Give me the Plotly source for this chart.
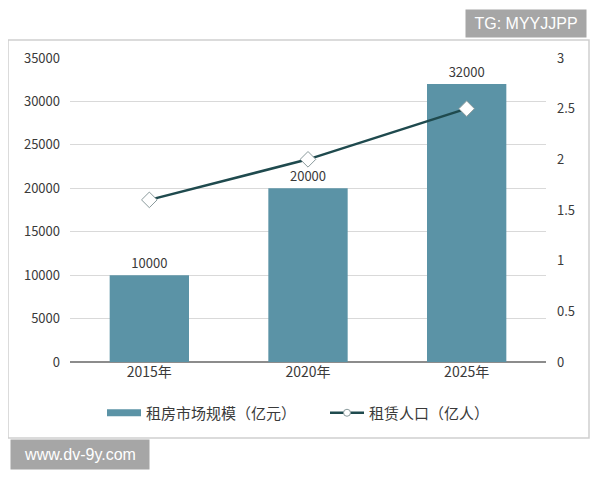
import plotly.graph_objects as go

categories = ["2015年", "2020年", "2025年"]
market_size = [10000, 20000, 32000]
renters = [1.6, 2.0, 2.5]
bar_labels = ["10000", "20000", "32000"]
left_ticks = [0, 5000, 10000, 15000, 20000, 25000, 30000, 35000]
right_ticks = [0, 0.5, 1, 1.5, 2, 2.5, 3]
bar_name = "租房市场规模（亿元）"
line_name = "租赁人口（亿人）"

FONT = "Noto Sans CJK SC, Noto Sans, sans-serif"
TXT = "#3a3a3a"
BAR_C = "#5b93a6"
LINE_C = "#1f4a4e"

fig = go.Figure()
fig.add_trace(go.Bar(
    x=categories, y=market_size, name=bar_name, showlegend=False,
    marker=dict(color=BAR_C, line=dict(width=0)),
    text=bar_labels, textposition="outside",
    textfont=dict(size=13, color=TXT, family=FONT),
    cliponaxis=False,
))
fig.add_trace(go.Scatter(
    x=categories, y=renters, name=line_name, yaxis="y2", showlegend=False,
    mode="lines+markers",
    line=dict(color=LINE_C, width=2.5),
    marker=dict(symbol="diamond", size=12, color="white",
                line=dict(color="#8a9a9c", width=1)),
))
# legend-only entries (wide bar swatch, line with small circle)
fig.add_trace(go.Scatter(
    x=[None], y=[None], name=bar_name, mode="lines",
    line=dict(color=BAR_C, width=7),
))
fig.add_trace(go.Scatter(
    x=[None], y=[None], name=line_name, mode="lines+markers", yaxis="y2",
    line=dict(color=LINE_C, width=2.5),
    marker=dict(symbol="circle", size=7, color="white",
                line=dict(color="#8a9a9c", width=1)),
))

# page has an 8px body margin; plot area in page pixels: x 70..546, y 58..362
def px(x):
    return (x - 70) / 476
def py(y):
    return (362 - y) / 304

fig.update_layout(
    width=592, height=472,
    margin=dict(l=62, r=54, t=50, b=118),
    paper_bgcolor="white", plot_bgcolor="white",
    font=dict(family=FONT, size=13, color=TXT),
    bargap=0.5,
    showlegend=True,
    legend=dict(orientation="h", x=px(102), xanchor="left", y=py(413), yanchor="middle",
                font=dict(size=15, color=TXT), itemwidth=34, traceorder="normal",
                entrywidth=174, entrywidthmode="pixels"),
    xaxis=dict(showgrid=False, showline=False, ticks="",
               tickfont=dict(size=14, color=TXT)),
    yaxis=dict(range=[0, 35000], tickvals=left_ticks, tickformat="d", showgrid=True,
               gridcolor="#d9d9d9", gridwidth=1, zeroline=True,
               zerolinecolor="#8c8c8c", zerolinewidth=1.5,
               tickfont=dict(size=13, color=TXT), ticklabelstandoff=9,
               showline=False),
    yaxis2=dict(range=[0, 3], tickvals=right_ticks, overlaying="y", side="right",
                showgrid=False, zeroline=False, showline=False,
                tickfont=dict(size=13, color=TXT), ticklabelstandoff=10),
    shapes=[
        dict(type="rect", xref="paper", yref="paper",
             x0=px(8), x1=px(589), y0=py(438), y1=py(40),
             line=dict(color="#cfcfcf", width=1.5), fillcolor="rgba(0,0,0,0)",
             layer="below"),
    ],
    annotations=[
        dict(text="TG: MYYJJPP", xref="paper", yref="paper",
             x=px(526), y=py(23.5), xanchor="center", yanchor="middle",
             showarrow=False, bgcolor="#a6a6a6", width=118, height=25, borderpad=1,
             font=dict(size=16, color="white", family="Liberation Sans, Arial, sans-serif")),
        dict(text="www.dv-9y.com", xref="paper", yref="paper",
             x=px(80), y=py(454.5), xanchor="center", yanchor="middle",
             showarrow=False, bgcolor="#a6a6a6", width=136, height=27, borderpad=1,
             font=dict(size=16, color="white", family="Liberation Sans, Arial, sans-serif")),
    ],
)

fig.write_html("out.html")
